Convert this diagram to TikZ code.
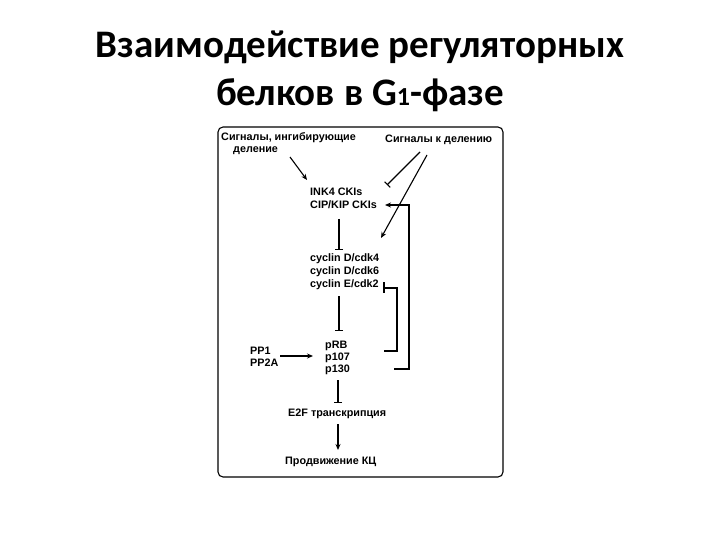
\documentclass[tikz,border=0pt]{standalone}
\usepackage{fontspec}
\setmainfont{Liberation Sans}
\newfontfamily\titlefont{Carlito}
\usetikzlibrary{arrows.meta}
\begin{document}
\begin{tikzpicture}[x=1pt,y=-1pt,
  lbl/.style={anchor=west,inner sep=0pt,font=\fontsize{10.8}{13}\selectfont\bfseries},
  act/.style={-{Stealth[length=6pt,width=5pt]},line width=1.1pt},
  inh/.style={-{Bar[width=8pt]},line width=1.1pt},
  ln/.style={line width=1.1pt}]
\useasboundingbox (0,0) rectangle (720,540);
\node[font=\titlefont\fontsize{39}{48}\selectfont\bfseries,align=center] (title) at (360,71) {Взаимодействие регуляторных\\белков в G{\fontsize{26}{26}\selectfont 1}-фазе};
\draw[line width=1.1pt,rounded corners=5pt] (218,127) rectangle (503,477);
\node[lbl] (sinh) at (221,138) {Сигналы, ингибирующие};
\node[lbl] (sdel) at (233,151) {деление};
\node[lbl] (spro) at (385,140) {Сигналы к делению};
\node[lbl] (ink) at (310,192) {INK4 CKIs};
\node[lbl] (cip) at (310,205) {CIP/KIP CKIs};
\node[lbl] (c1) at (310,259) {cyclin D/cdk4};
\node[lbl] (c2) at (310,272) {cyclin D/cdk6};
\node[lbl] (c3) at (310,285) {cyclin E/cdk2};
\node[lbl] (prb) at (325,346) {pRB};
\node[lbl] (p107) at (325,358) {p107};
\node[lbl] (p130) at (325,370) {p130};
\node[lbl] (pp1) at (250,351) {PP1};
\node[lbl] (pp2) at (250,363) {PP2A};
\node[lbl] (e2f) at (288,414) {E2F транскрипция};
\node[lbl] (kc) at (285,462) {Продвижение КЦ};
\coordinate (a1) at (290,157); \coordinate (a2) at (307,180);
\draw[act] (a1) -- (a2);
\coordinate (b1) at (420,152); \coordinate (b2) at (387,185);
\draw[inh] (b1) -- (b2);
\coordinate (d1) at (427,155); \coordinate (d2) at (381,238);
\draw[act] (d1) -- (d2);
\coordinate (i1) at (339,219); \coordinate (i2) at (339,250);
\draw[inh] (i1) -- (i2);
\coordinate (j1) at (339,296); \coordinate (j2) at (339,331);
\draw[inh] (j1) -- (j2);
\coordinate (k1) at (338,380); \coordinate (k2) at (338,403);
\draw[inh] (k1) -- (k2);
\coordinate (l1) at (338,424); \coordinate (l2) at (338,450);
\draw[act] (l1) -- (l2);
\coordinate (m1) at (280,356); \coordinate (m2) at (313,356);
\draw[act] (m1) -- (m2);
% inner bracket
\coordinate (n0) at (384,282); \coordinate (n0b) at (384,293);
\draw[ln] (n0) -- (n0b);
\coordinate (n1) at (384,288); \coordinate (n2) at (397,288); \coordinate (n3) at (397,351); \coordinate (n4) at (384,351);
\draw[ln] (n1) -- (n2) -- (n3) -- (n4);
% outer bracket
\coordinate (o1) at (394,369); \coordinate (o2) at (409,369); \coordinate (o3) at (409,205); \coordinate (o4) at (385,205);
\draw[ln,-{Stealth[length=6pt,width=5pt]}] (o1) -- (o2) -- (o3) -- (o4);
\end{tikzpicture}
\end{document}
